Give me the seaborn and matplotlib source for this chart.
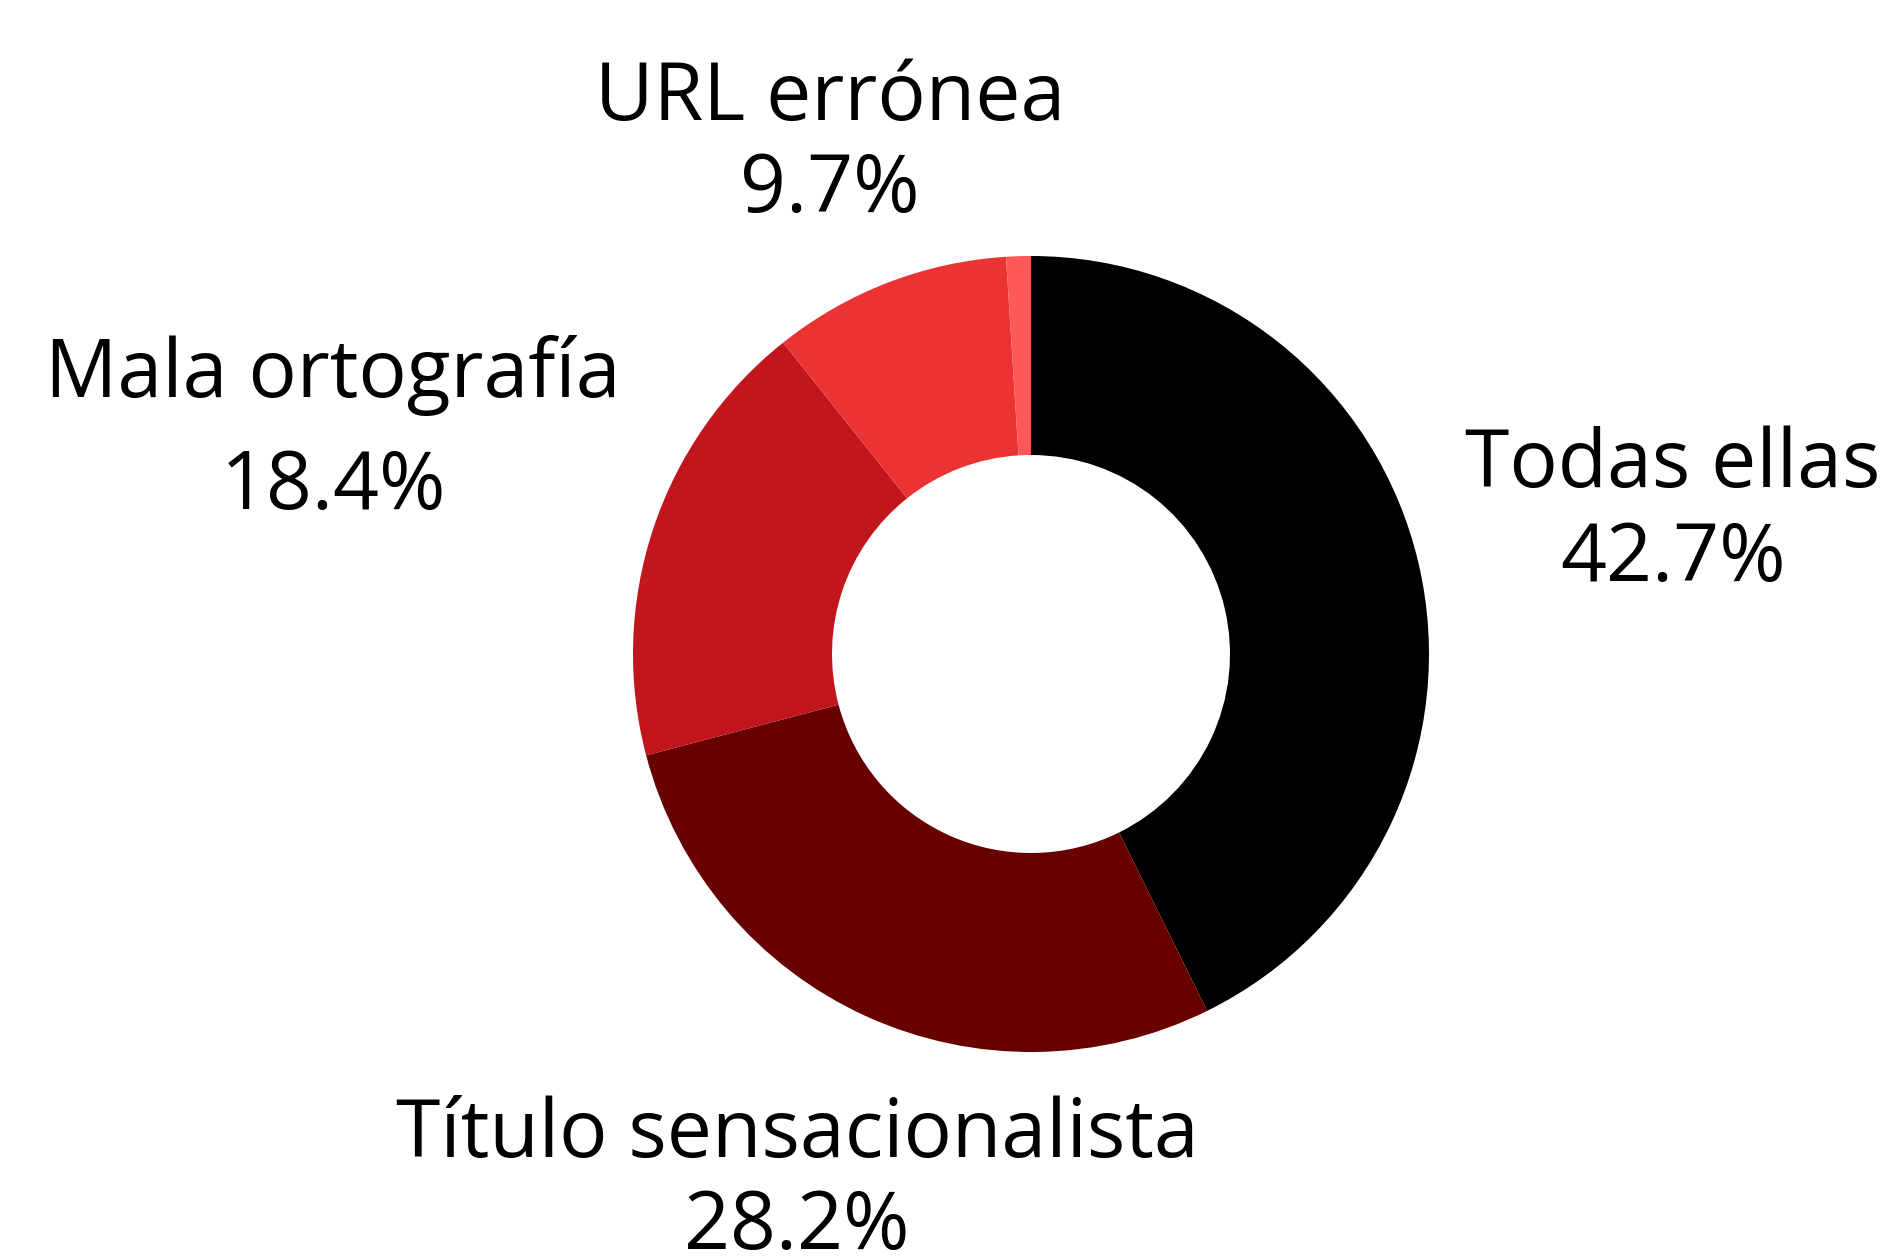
import matplotlib
matplotlib.use("Agg")
import matplotlib.pyplot as plt
import seaborn as sns

sns.set_theme(style="white")
plt.rcParams["font.family"] = ["Open Sans", "DejaVu Sans"]

# slices, clockwise from 12 o'clock
labels = ["Todas ellas", "Título sensacionalista", "Mala ortografía", "URL errónea", ""]
values = [42.7, 28.2, 18.4, 9.7, 1.0]
colors = ["#000000", "#690000", "#c1161c", "#ec3333", "#ff5858"]

# label anchors in pixels (x centre, baseline of name, baseline of percent)
label_pos = [(1673, 487, 581), (797, 1157, 1249), (333, 397, 509), (830, 120, 212)]

W, H = 1887, 1258
cx, cy, R = 1031, 654, 398

fig = plt.figure(figsize=(W / 100, H / 100), dpi=100)
ax = fig.add_axes([0, 0, 1, 1])
ax.pie(values, colors=colors, startangle=90, counterclock=False,
       radius=1, center=(0, 0), wedgeprops=dict(width=0.5, linewidth=0))
ax.set_xlim(-cx / R, (W - cx) / R)
ax.set_ylim(-(H - cy) / R, cy / R)
ax.set_aspect("equal")
ax.axis("off")

for (name, v, (x, y1, y2)) in zip(labels, values, label_pos):
    fig.text(x / W, 1 - y1 / H, name, ha="center", va="baseline", fontsize=58, color="black")
    fig.text(x / W, 1 - y2 / H, f"{v:.1f}%", ha="center", va="baseline", fontsize=58, color="black")

fig.savefig("out.png", dpi=100, facecolor="white")
